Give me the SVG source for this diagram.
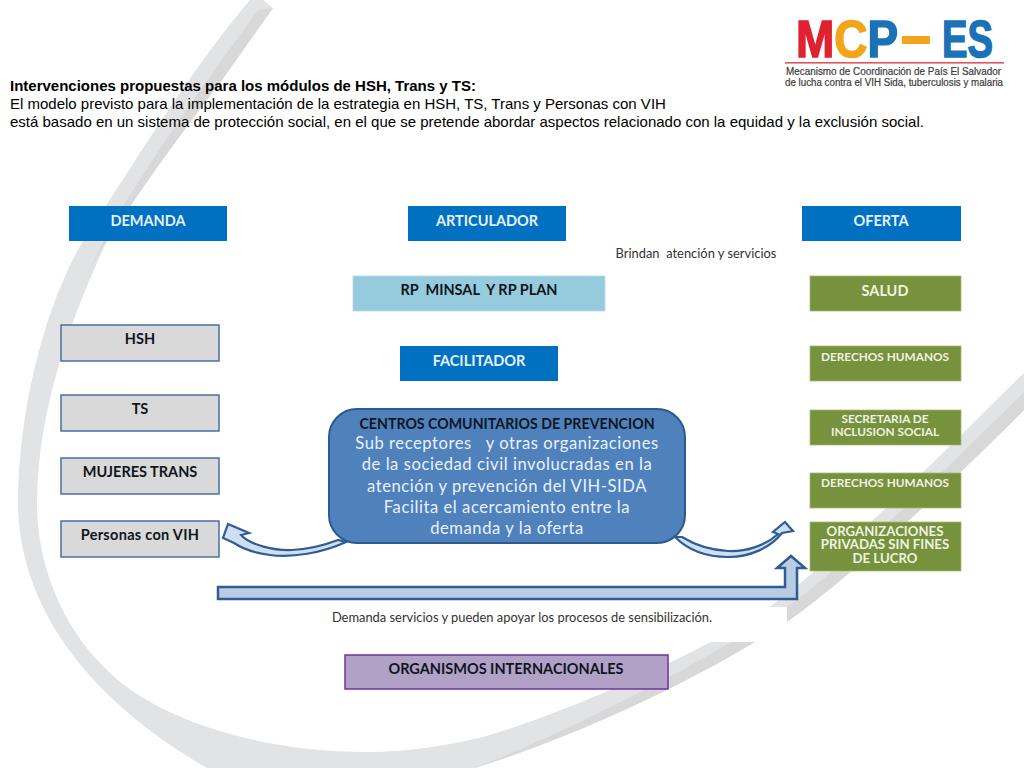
<svg xmlns="http://www.w3.org/2000/svg" width="1024" height="768" viewBox="0 0 1024 768">
<style>
text{font-family:"Lato","Liberation Sans",sans-serif;font-weight:700;text-anchor:middle}
.hd{font-family:"Liberation Sans",Arial,sans-serif;font-size:15px;text-anchor:start;font-weight:400;fill:#000}
.blue{fill:#0070c0}
.bt{fill:#e6f0fa;font-size:14.5px}
.gray{fill:#d9d9d9;stroke:#4a6f9f;stroke-width:1.5}
.dk{fill:#0f1620;font-size:14.5px}
.green{fill:#76923c;stroke:#a5b97a;stroke-width:.8}
.gt{fill:#eef3e2;font-size:11.8px}
.gt2{fill:#eef3e2;font-size:13.2px}
.arrow{fill:#cfdff2;stroke:#2f5c93;stroke-width:2.2;stroke-linejoin:miter}
.note{fill:#333;font-weight:400;font-size:12.9px;white-space:pre}
.ct{fill:#eaf1fa;font-weight:400;font-size:16.6px;letter-spacing:.55px;white-space:pre}
.logo{font-family:"Liberation Sans",Arial,sans-serif;font-weight:700;font-size:52px;text-anchor:start;stroke-width:1.6}
.lt{font-family:"Liberation Sans",Arial,sans-serif;font-weight:400;font-size:10px;fill:#3c3c3c;text-anchor:start;stroke:#3c3c3c;stroke-width:.2}
</style>
<rect width="1024" height="768" fill="#fff"/>
<g id="background">
<path fill="#e2e3e5" d="M250,0 C190,70 130,170 83,241 C45,305 18,410 18,505 C20,610 90,700 207,768 L475,768 C570,738 690,685 787,622 C850,578 960,475 1024,410 L1024,373 C960,435 860,540 772,605 C700,655 560,715 483,737 C445,746 405,752 368,752 C250,752 150,715 105,668 C60,625 37,560 37,505 C37,420 65,330 107,241 C150,175 195,115 222,80 L273,8 L263,0 Z"/>
<path fill="#d8d8d9" d="M273,8 L258,10 C215,68 165,140 130,195 C105,235 85,275 68,325 C80,290 92,262 107,241 C150,175 195,115 222,80 Z"/>
<path fill="#d8d8d9" d="M1024,392 C960,455 860,555 780,612 C690,670 570,730 475,768 C570,738 690,685 787,622 C850,578 960,475 1024,410 Z"/>
<rect x="560" y="607" width="227" height="35" fill="#fff"/>
</g>
<g id="logo">
<text class="logo" x="796" y="57" textLength="102" lengthAdjust="spacingAndGlyphs"><tspan fill="#e0212f" stroke="#e0212f">M</tspan><tspan fill="#f2a51a" stroke="#f2a51a">C</tspan><tspan fill="#1c72b8" stroke="#1c72b8">P</tspan></text>
<rect x="902" y="36" width="28" height="8" fill="#f2a51a"/>
<text class="logo" x="942" y="57" fill="#1c72b8" stroke="#1c72b8" textLength="51" lengthAdjust="spacingAndGlyphs">ES</text>
<rect x="785" y="62" width="219" height="1.6" fill="#e8525f"/>
<text class="lt" x="786" y="75" textLength="215" lengthAdjust="spacingAndGlyphs">Mecanismo de Coordinación de País El Salvador</text>
<text class="lt" x="785" y="86" textLength="218" lengthAdjust="spacingAndGlyphs">de lucha contra el VIH Sida, tuberculosis y malaria</text>
</g>
<g id="heading">
<text class="hd" x="10" y="91" style="font-weight:700">Intervenciones propuestas para los módulos de HSH, Trans y TS:</text>
<text class="hd" x="10" y="109">El modelo previsto para la implementación de la estrategia en HSH, TS, Trans y Personas con VIH</text>
<text class="hd" x="10" y="127">está basado en un sistema de protección social, en el que se pretende abordar aspectos relacionado con la equidad y la exclusión social.</text>
</g>
<g id="connectors">
<path id="arrow-demanda" class="arrow" d="M346,542 C322,553 292,558 270,555 C255,553 243,549 234,543 L223,538 L228,524 L249,533 L241,535 C250,545 275,551 292,550 C310,549 325,545 338,540 Z"/>
<path id="arrow-oferta" class="arrow" d="M675,537 C690,552 710,557 728,557 C750,557 770,548 782,533 L793,531 L785,522 L773,532 L778,534 C765,546 745,552 728,551 C710,550 695,545 682,537 Z"/>
<path id="arrow-bent" class="arrow" style="fill:#b8cce4;stroke-width:2.5" d="M218,587 H785 V568 H777 L791,556 L805,568 H797 V599 H218 Z"/>
</g>
<g id="demanda"><rect class="blue" x="69" y="206" width="158" height="35"/><text class="bt" x="148" y="226">DEMANDA</text></g>
<g id="articulador"><rect class="blue" x="408" y="206" width="158" height="35"/><text class="bt" x="487" y="226">ARTICULADOR</text></g>
<g id="oferta"><rect class="blue" x="802" y="206" width="159" height="35"/><text class="bt" x="881" y="226">OFERTA</text></g>
<g id="brindan"><text class="note" x="696" y="258">Brindan  atención y servicios</text></g>
<g id="rp"><rect x="353" y="276" width="252" height="35" fill="#95cbdd" stroke="#b3dbe8" stroke-width=".8"/><text class="dk" x="479" y="295" style="white-space:pre">RP  MINSAL  Y RP PLAN</text></g>
<g id="facilitador"><rect class="blue" x="400" y="346" width="158" height="35"/><text class="bt" x="479" y="366">FACILITADOR</text></g>
<g id="hsh"><rect class="gray" x="61" y="325" width="158" height="36"/><text class="dk" x="140" y="344">HSH</text></g>
<g id="ts"><rect class="gray" x="61" y="395" width="158" height="36"/><text class="dk" x="140" y="414">TS</text></g>
<g id="mujeres"><rect class="gray" x="61" y="458" width="158" height="36"/><text class="dk" x="140" y="477">MUJERES TRANS</text></g>
<g id="personas"><rect class="gray" x="61" y="521" width="158" height="36"/><text class="dk" x="140" y="540" style="letter-spacing:.3px">Personas con VIH</text></g>
<g id="salud"><rect class="green" x="810" y="276" width="151" height="35"/><text class="gt2" style="font-size:14.5px" x="885" y="296">SALUD</text></g>
<g id="derechos1"><rect class="green" x="810" y="346" width="151" height="35"/><text class="gt" x="885" y="361">DERECHOS HUMANOS</text></g>
<g id="secretaria"><rect class="green" x="810" y="410" width="151" height="35"/><text class="gt" x="885" y="423">SECRETARIA DE</text><text class="gt" x="885" y="436">INCLUSION SOCIAL</text></g>
<g id="derechos2"><rect class="green" x="810" y="473" width="151" height="35"/><text class="gt" x="885" y="487">DERECHOS HUMANOS</text></g>
<g id="organizaciones"><rect class="green" x="810" y="522" width="151" height="49"/><text class="gt2" x="885" y="536">ORGANIZACIONES</text><text class="gt2" x="885" y="549">PRIVADAS SIN FINES</text><text class="gt2" x="885" y="563">DE LUCRO</text></g>
<g id="centros"><rect x="329" y="409" width="356" height="134" rx="28" fill="#4f81bd" stroke="#2c5a8f" stroke-width="2"/>
<text class="dk" x="507" y="429" style="font-size:14.2px">CENTROS COMUNITARIOS DE PREVENCION</text>
<text class="ct" x="507" y="449">Sub receptores   y otras organizaciones</text>
<text class="ct" x="507" y="470">de la sociedad civil involucradas en la</text>
<text class="ct" x="507" y="492">atención y prevención del VIH-SIDA</text>
<text class="ct" x="507" y="513">Facilita el acercamiento entre la</text>
<text class="ct" x="507" y="534">demanda y la oferta</text></g>
<g id="demanda-nota"><text class="note" x="522" y="622">Demanda servicios y pueden apoyar los procesos de sensibilización.</text></g>
<g id="organismos"><rect x="345" y="655" width="323" height="34" fill="#b2a1c7" stroke="#7030a0" stroke-width="1.5"/><text class="dk" x="506" y="674">ORGANISMOS INTERNACIONALES</text></g>
</svg>
